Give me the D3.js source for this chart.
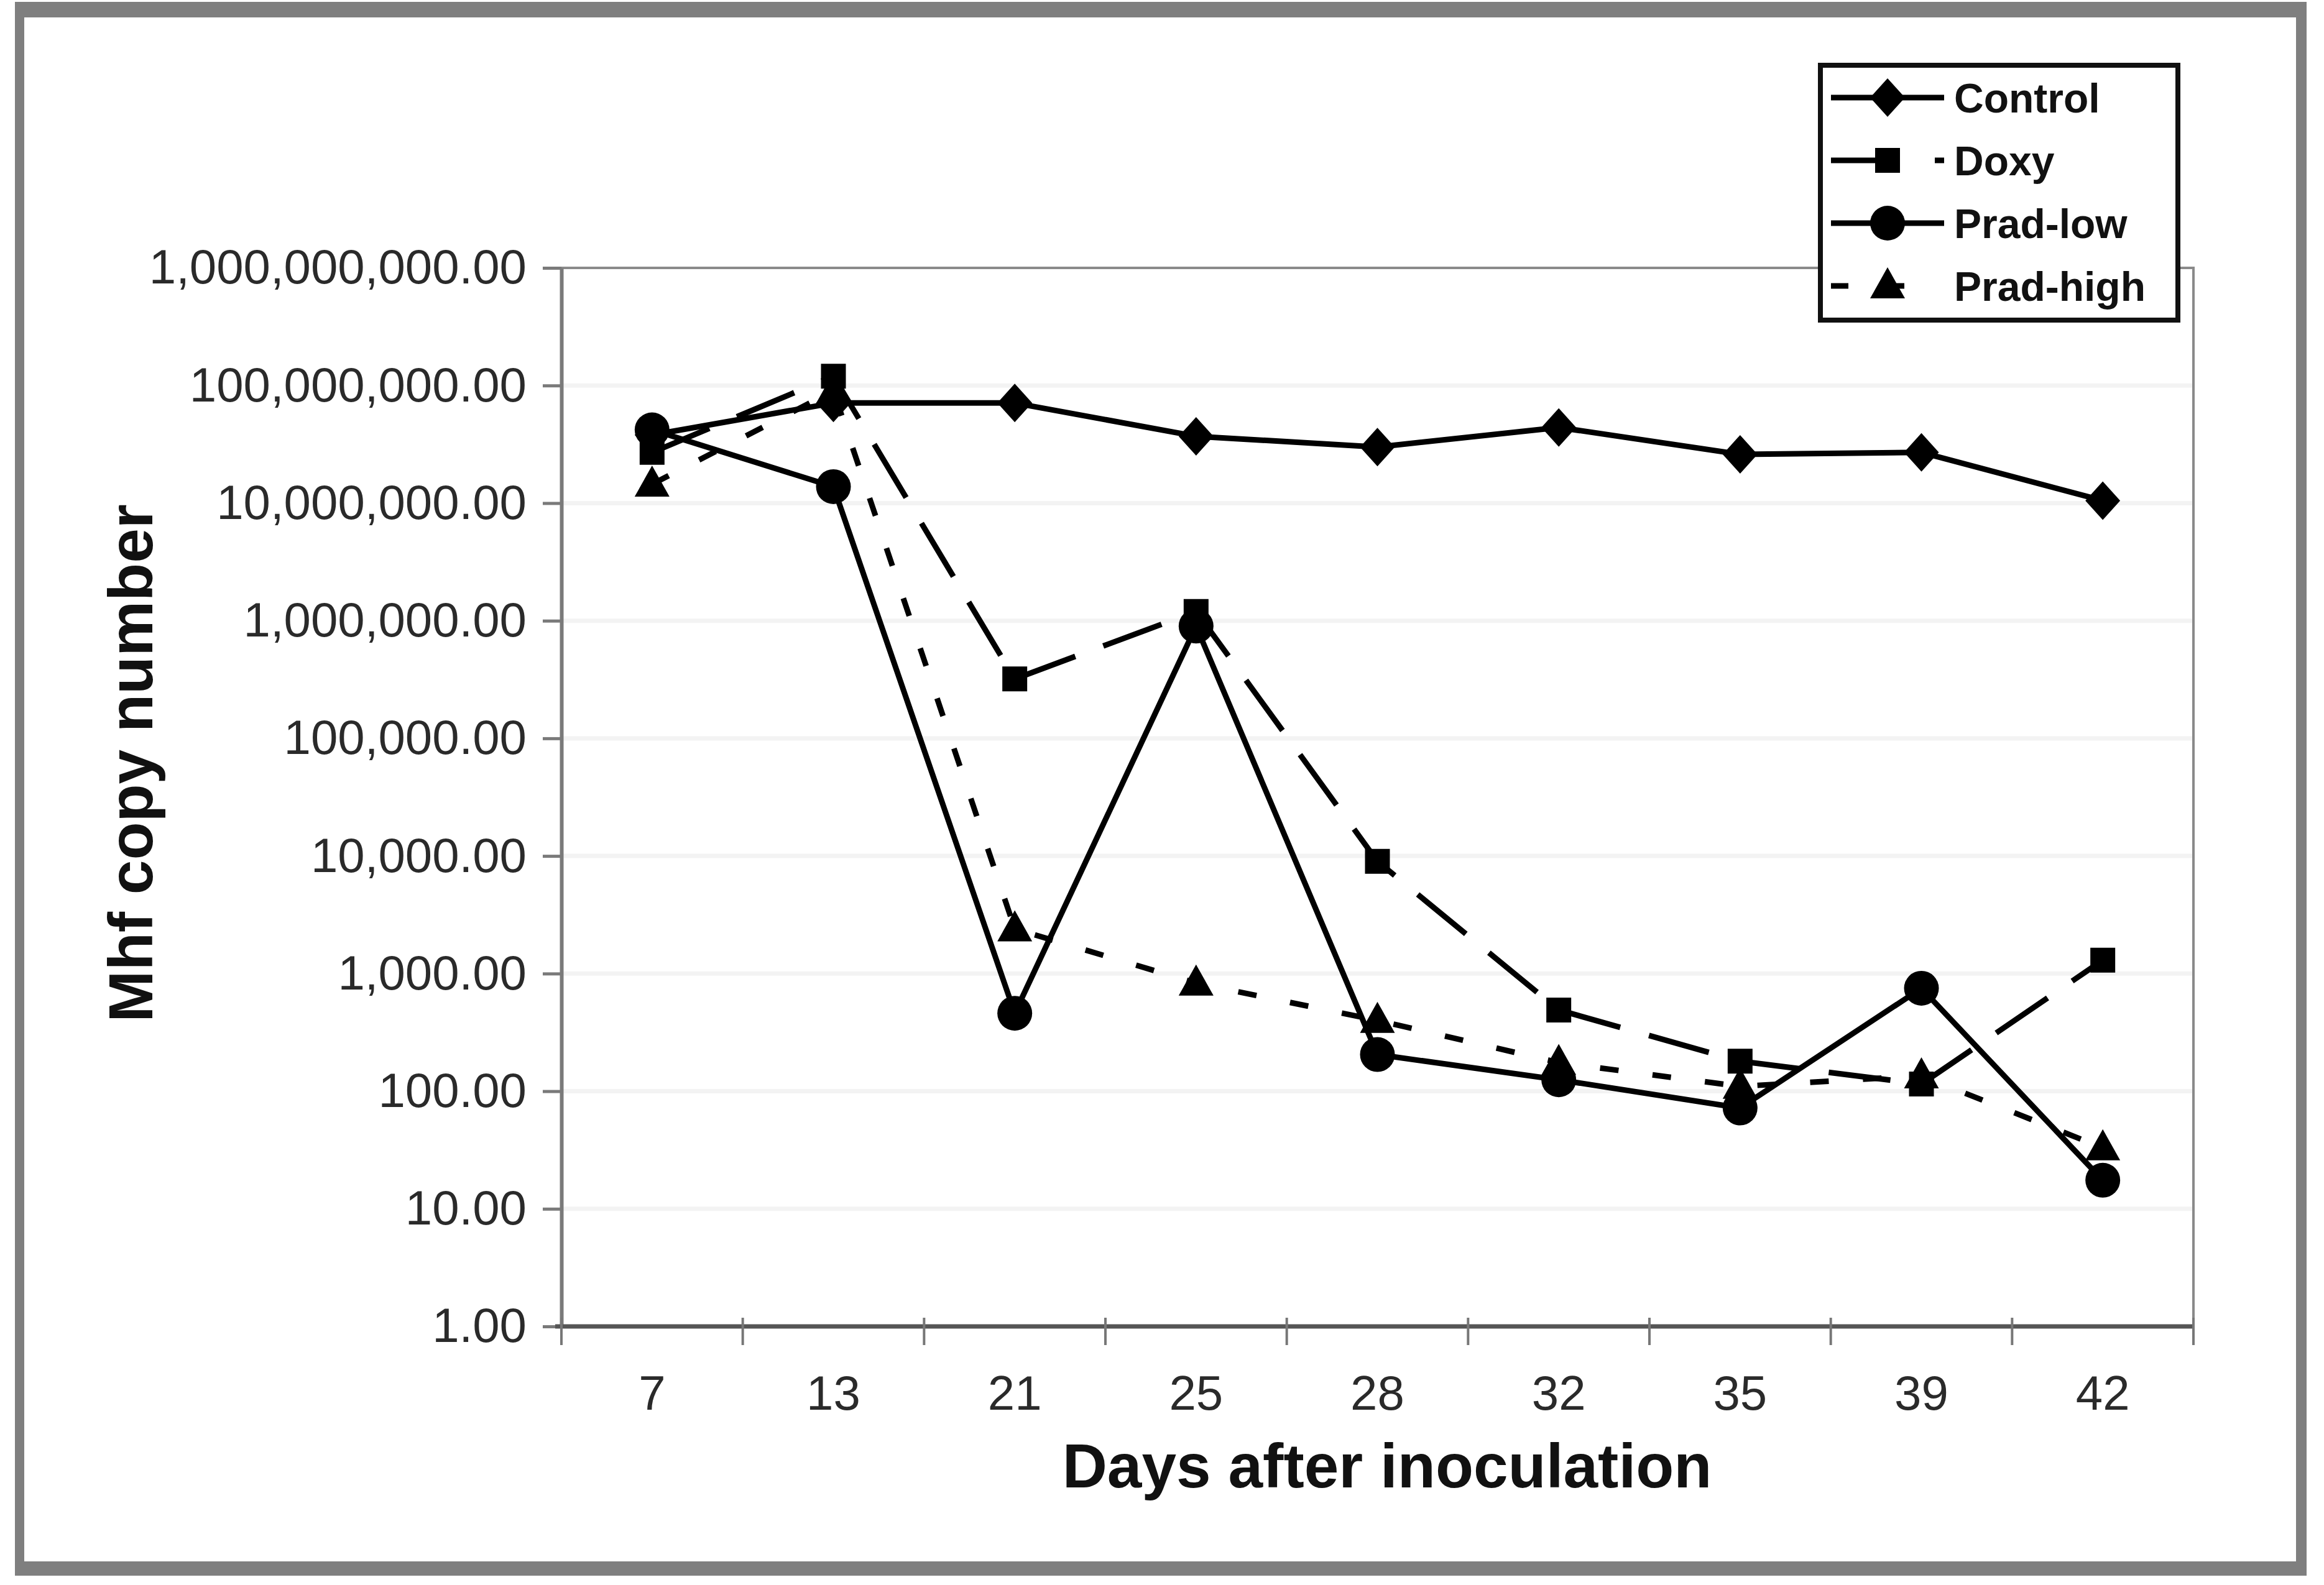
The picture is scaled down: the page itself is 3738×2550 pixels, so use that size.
<!DOCTYPE html>
<html>
<head>
<meta charset="utf-8">
<script src="https://cdn.jsdelivr.net/npm/d3@7/dist/d3.min.js"></script>
<style>
  html, body { margin: 0; padding: 0; background: #fff; }
  svg { display: block; }
  text { font-family: "Liberation Sans", Arial, sans-serif; }
</style>
</head>
<body>
<div id="viz"></div>
<script>
// categories (days after inoculation)
const days = ['7', '13', '21', '25', '28', '32', '35', '39', '42']

// Mhf copy number per group
const control = [3.8e7, 7.1e7, 7.1e7, 3.7e7, 3.0e7, 4.4e7, 2.6e7, 2.7e7, 1.05e7]
const doxy = [2.7e7, 1.2e8, 3.2e5, 1.2e6, 9.0e3, 490, 180, 115, 1.3e3]
const pradLow = [4.2e7, 1.38e7, 460, 9.0e5, 205, 125, 72, 750, 17.5]
const pradHigh = [1.45e7, 9.0e7, 2.4e3, 830, 400, 175, 110, 135, 33]

const seriesNames = ['Control', 'Doxy', 'Prad-low', 'Prad-high']
const yTicks = [1, 10, 100, 1e3, 1e4, 1e5, 1e6, 1e7, 1e8, 1e9]

const W = 3738, H = 2550
const plot = { left: 903, right: 3528, top: 431, bottom: 2134 }

const svg = d3.select('#viz').append('svg')
  .attr('width', W)
  .attr('height', H)

svg.append('rect').attr('width', W).attr('height', H).attr('fill', '#fff')

// outer grey frame
const frame = '#7f7f7f'
svg.append('rect').attr('x', 24).attr('y', 3).attr('width', 3686).attr('height', 25).attr('fill', frame)
svg.append('rect').attr('x', 24).attr('y', 2512).attr('width', 3686).attr('height', 23).attr('fill', frame)
svg.append('rect').attr('x', 24).attr('y', 3).attr('width', 15).attr('height', 2532).attr('fill', frame)
svg.append('rect').attr('x', 3693).attr('y', 3).attr('width', 17).attr('height', 2532).attr('fill', frame)

const x = d3.scaleBand().domain(days).range([plot.left, plot.right]).paddingInner(0).paddingOuter(0)
const y = d3.scaleLog().domain([1, 1e9]).range([plot.bottom, plot.top])
const cx = d => x(d) + x.bandwidth() / 2

// faint gridlines
svg.append('g')
  .selectAll('line')
  .data(yTicks.slice(1, -1))
  .enter()
  .append('line')
  .attr('x1', plot.left)
  .attr('x2', plot.right)
  .attr('y1', d => y(d))
  .attr('y2', d => y(d))
  .attr('stroke', '#f3f3f3')
  .attr('stroke-width', 7)

// plot border (top and right)
svg.append('path')
  .attr('d', `M${plot.left},${plot.top}H${plot.right}V${plot.bottom}`)
  .attr('fill', 'none')
  .attr('stroke', '#8a8a8a')
  .attr('stroke-width', 4)

// y axis
const yAxis = svg.append('g')
  .attr('transform', `translate(${plot.left},0)`)
  .call(d3.axisLeft(y).tickValues(yTicks).tickFormat(d3.format(',.2f')).tickSizeInner(30).tickSizeOuter(0).tickPadding(26))
yAxis.select('.domain').attr('stroke', '#7a7a7a').attr('stroke-width', 6)
yAxis.selectAll('.tick line').attr('stroke', '#7a7a7a').attr('stroke-width', 5)
yAxis.selectAll('.tick text')
  .attr('font-size', 78)
  .attr('fill', '#2a2a2a')
  .attr('font-family', '"Liberation Sans", Arial, sans-serif')

// x axis (category ticks between categories)
const xg = svg.append('g')
xg.append('line')
  .attr('x1', plot.left - 10)
  .attr('x2', plot.right + 2)
  .attr('y1', plot.bottom)
  .attr('y2', plot.bottom)
  .attr('stroke', '#555')
  .attr('stroke-width', 7)
const bounds = days.map(d => x(d)).concat([plot.right])
xg.selectAll('.xt')
  .data(bounds)
  .enter()
  .append('line')
  .attr('class', 'xt')
  .attr('x1', d => d)
  .attr('x2', d => d)
  .attr('y1', plot.bottom - 14)
  .attr('y2', plot.bottom + 30)
  .attr('stroke', '#777')
  .attr('stroke-width', 4)
xg.selectAll('.xl')
  .data(days)
  .enter()
  .append('text')
  .attr('class', 'xl')
  .attr('x', d => cx(d))
  .attr('y', 2268)
  .attr('text-anchor', 'middle')
  .attr('font-size', 78)
  .attr('fill', '#2a2a2a')
  .text(d => d)

// axis titles
svg.append('text')
  .attr('x', 2231)
  .attr('y', 2393)
  .attr('text-anchor', 'middle')
  .attr('font-size', 100)
  .attr('font-weight', 'bold')
  .attr('fill', '#111')
  .text('Days after inoculation')

svg.append('text')
  .attr('transform', 'translate(245,1228)rotate(-90)')
  .attr('text-anchor', 'middle')
  .attr('font-size', 100)
  .attr('font-weight', 'bold')
  .attr('fill', '#111')
  .text('Mhf copy number')

// marker shapes
const shapes = {
  diamond: 'M0,-31L28,0L0,31L-28,0Z',
  square: 'M-20,-20H20V20H-20Z',
  circle: d3.symbol(d3.symbolCircle, Math.PI * 28 * 28)(),
  triangle: 'M0,-30L28,20L-28,20Z'
}

const series = [
  { name: seriesNames[0], values: control, dash: null, legendDash: null, legendEnd: 3127, shape: 'diamond' },
  { name: seriesNames[1], values: doxy, dash: '100,48', legendDash: '95,72', legendEnd: 3127, shape: 'square' },
  { name: seriesNames[2], values: pradLow, dash: null, legendDash: null, legendEnd: 3127, shape: 'circle' },
  { name: seriesNames[3], values: pradHigh, dash: '30,55', legendDash: '28,62', legendEnd: 3085, shape: 'triangle' }
]

const line = d3.line()
  .x((d, i) => cx(days[i]))
  .y(d => y(d))

series.forEach(function(s) {
  svg.append('path')
    .datum(s.values)
    .attr('d', line)
    .attr('fill', 'none')
    .attr('stroke', '#000')
    .attr('stroke-width', 9)
    .attr('stroke-linejoin', 'round')
    .attr('stroke-dasharray', s.dash)
})

series.forEach(function(s) {
  svg.append('g')
    .selectAll('path')
    .data(s.values)
    .enter()
    .append('path')
    .attr('d', shapes[s.shape])
    .attr('transform', (d, i) => 'translate(' + cx(days[i]) + ',' + y(d) + ')')
    .attr('fill', '#000')
})

// legend
const lg = svg.append('g')
lg.append('rect')
  .attr('x', 2928)
  .attr('y', 105)
  .attr('width', 575)
  .attr('height', 410)
  .attr('fill', '#fff')
  .attr('stroke', '#111')
  .attr('stroke-width', 8)

series.forEach(function(s, i) {
  const ly = 157 + i * 101
  lg.append('line')
    .attr('x1', 2945)
    .attr('x2', s.legendEnd)
    .attr('y1', ly)
    .attr('y2', ly)
    .attr('stroke', '#000')
    .attr('stroke-width', 9)
    .attr('stroke-dasharray', s.legendDash)
  lg.append('path')
    .attr('d', shapes[s.shape])
    .attr('transform', 'translate(3036,' + ly + ')')
    .attr('fill', '#000')
  lg.append('text')
    .attr('x', 3143)
    .attr('y', ly)
    .attr('dy', '0.36em')
    .attr('font-size', 66)
    .attr('font-weight', 'bold')
    .attr('fill', '#111')
    .text(s.name)
})
</script>
</body>
</html>
